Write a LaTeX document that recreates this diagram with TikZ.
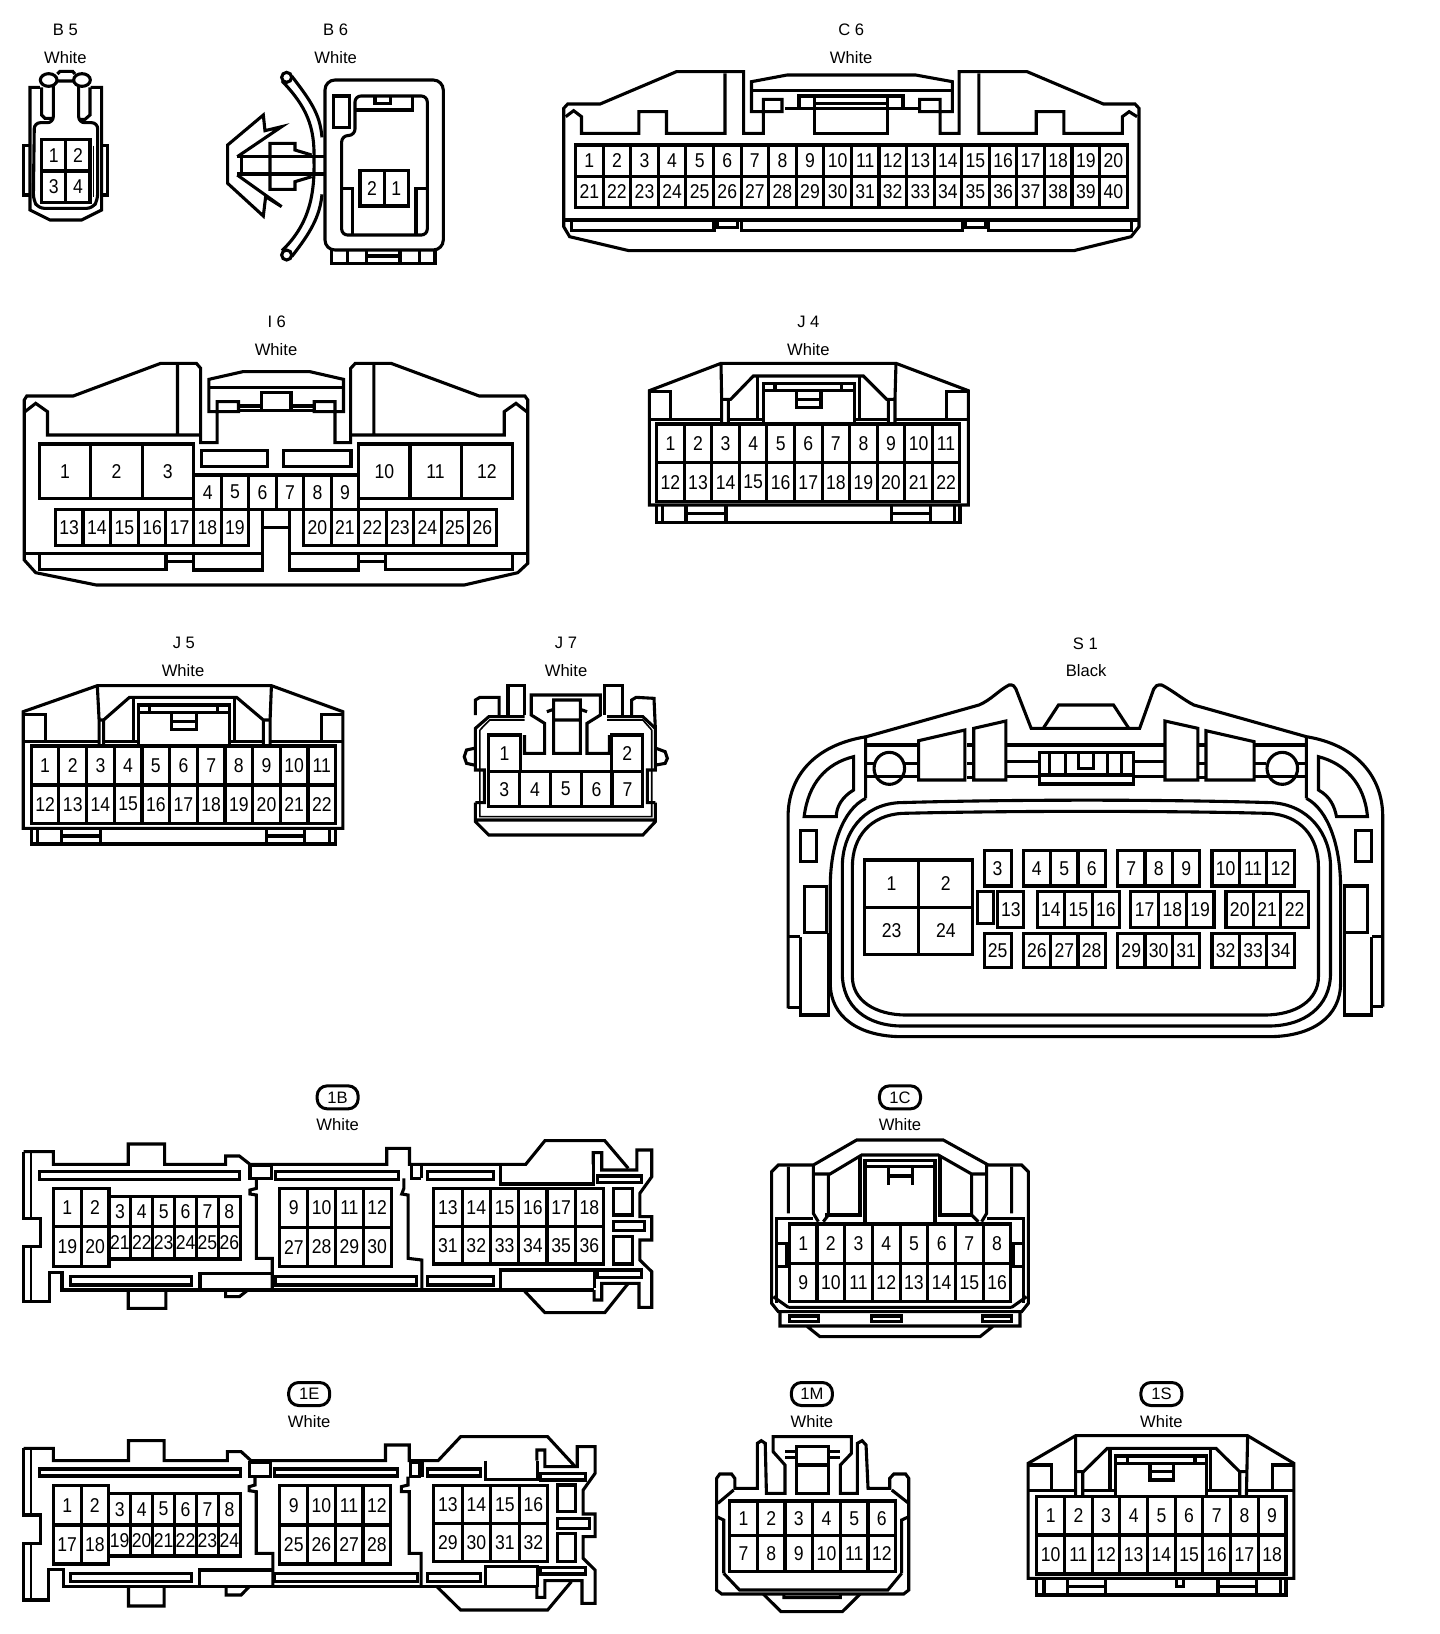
\documentclass[tikz,border=0pt]{standalone}
\usepackage{fontspec}
\setmainfont{Liberation Sans}
\newfontfamily\pinfont[FakeStretch=0.88]{Liberation Sans}
\tikzset{
  panel/.style n args={3}{shift={(#1,#2)},x=.5pt/#3,y=-.166667pt},
  pinlabel/.style={font=\pinfont\fontsize{10}{10}\selectfont,inner sep=0pt},
  tag/.style={font=\fontsize{8.3}{10}\selectfont,inner sep=0pt},
  badge/.style={draw,tag,rounded corners=5pt,minimum width=20.5pt,minimum height=11.5pt,line width=1.5pt},
  fine/.style={line width=.8pt}
}
\newcommand{\pinrow}[6]{% name, left, cell width, top, bottom, labels
  \foreach \n [count=\k from 0] in {#6} {
    \pgfmathsetmacro\xa{#2+\k*#3}
    \pgfmathsetmacro\xb{#2+(\k+1)*#3}
    \pgfmathsetmacro\xc{#2+(\k+.5)*#3}
    \draw (\xa,#4) rectangle (\xb,#5);
    \node[pinlabel] (#1-\n) at (\xc,{(#4+#5)/2}) {\n};
  }
}
\begin{document}
\begin{tikzpicture}[x=.5pt,y=-.5pt,line width=1.55pt]
\useasboundingbox (0,0) rectangle (1440,1634);

% B5 and B6
\begin{scope}[panel={0}{0}{3}]
\node[tag] (b5) at (196,90) {B 5};
\node[tag] (b5col) at (196,172) {White};
\draw (172,222) -- (180,214) -- (218,214) -- (225,222) (172,243) -- (222,243);
\draw[fill=white] (146,240) ellipse [x radius=25,y radius=19];
\draw[fill=white] (246,240) ellipse [x radius=25,y radius=19];
\draw (120,262) -- (90,262) -- (90,630) -- (150,660) -- (245,660) -- (305,630) -- (305,262) -- (272,262);
\draw (125,262) -- (125,345) -- (135,355) -- (160,355);
\draw (270,262) -- (270,345) -- (255,358) -- (236,358);
\draw[rounded corners=3pt] (160,258) -- (160,368) -- (103,368) -- (100,600) -- (115,625) -- (278,625) -- (293,600) -- (293,368) -- (236,368) -- (236,258);
\draw (90,437) -- (70,437) -- (70,585) -- (90,585);
\draw (305,437) -- (323,437) -- (323,585) -- (305,585);
\draw[fine] (280,437) -- (280,590);
\pinrow{b5}{125}{72.5}{418}{513}{1,2}
\pinrow{b5}{125}{72.5}{513}{608}{3,4}

\node[tag] (b6) at (1007,90) {B 6};
\node[tag] (b6col) at (1007,172) {White};
\draw[rounded corners=5pt] (975,240) rectangle (1330,750);
\draw (995,750) -- (995,790) -- (1305,790) -- (1305,750);
\draw (1042,750) -- (1042,790) (1100,750) -- (1100,790) (1200,750) -- (1200,790) (1258,750) -- (1258,790) (1105,768) -- (1195,768);
\draw[rounded corners=3pt] (1065,288) -- (1282,288) -- (1282,705) -- (1025,705) -- (1025,408) -- (1065,405) -- cycle;
\draw (1000,288) rectangle (1048,382);
\draw (1068,330) -- (1238,330) -- (1238,288) (1125,288) -- (1125,310) -- (1172,310) -- (1172,288);
\draw (1025,565) -- (1058,565) -- (1058,705) (1282,565) -- (1248,565) -- (1248,705);
\pinrow{b6}{1080}{72.5}{512}{618}{2,1}
\draw (712,470) -- (845,380) -- (795,392) -- (790,345) -- (683,435) -- (683,550) -- (790,648) -- (797,590) -- (845,620) -- (712,525);
\draw (712,470) -- (975,470) (712,522) -- (975,522) (725,472) -- (725,520);
\draw (935,465) -- (885,450) -- (885,430) -- (810,430) -- (810,568) -- (885,568) -- (885,545) -- (935,530);
\draw (846,243) .. controls (920,320) and (945,380) .. (942,480) .. controls (945,600) and (920,680) .. (846,752);
\draw (875,228) .. controls (930,300) and (960,340) .. (966,412);
\draw (966,583) .. controls (960,650) and (930,700) .. (875,770);
\draw[fill=white] (860,232) ellipse [x radius=15,y radius=15];
\draw[fill=white] (860,765) ellipse [x radius=15,y radius=15];
\end{scope}

% C6
\begin{scope}[panel={540}{0}{2.529}]
\node[tag] (c6) at (787,90) {C 6};
\node[tag] (c6col) at (787,172) {White};
\draw (60,680) -- (60,325) -- (70,312) -- (152,312) -- (345,215) -- (515,215) -- (515,400) -- (565,400) -- (565,298) -- (612,298) -- (612,335) -- (535,335) -- (535,245) -- (625,225) -- (950,225) -- (1043,245) -- (1043,335) -- (960,335) -- (960,298) -- (1012,298) -- (1012,400) -- (1060,400) -- (1060,215) -- (1232,215) -- (1425,312) -- (1505,312) -- (1515,325) -- (1515,680) -- (1495,710) -- (1350,752) -- (225,752) -- (75,710) -- cycle;
\draw (535,272) -- (1043,272);
\draw (620,325) -- (655,325) -- (655,288) -- (918,288) -- (918,325) -- (960,325);
\draw (695,288) -- (695,400) -- (880,400) -- (880,288) (695,310) -- (880,310) (660,325) -- (915,325);
\draw (468,220) -- (468,400) -- (320,400) -- (320,335) -- (250,335) -- (250,400) -- (105,400) -- (105,350) -- (85,332) -- (65,350);
\draw (1110,220) -- (1110,400) -- (1255,400) -- (1255,335) -- (1325,335) -- (1325,400) -- (1473,400) -- (1473,350) -- (1490,335) -- (1510,350);
\pinrow{c6}{90}{69.75}{435}{530}{1,...,20}
\pinrow{c6}{90}{69.75}{530}{622}{21,...,40}
\draw (62,660) -- (1513,660);
\draw (80,660) -- (80,692) -- (440,692) -- (440,660) (450,660) -- (450,682) -- (500,682) -- (500,660);
\draw (510,660) -- (510,692) -- (1068,692) -- (1068,660) (1075,660) -- (1075,682) -- (1128,682) -- (1128,660);
\draw (1135,660) -- (1135,692) -- (1495,692) -- (1495,660);
\end{scope}

% I6
\begin{scope}[panel={0}{300}{2.8}]
\node[tag] (i6) at (775,65) {I 6};
\node[tag] (i6col) at (773,148) {White};
\draw (68,780) -- (68,300) -- (75,288) -- (205,288) -- (450,190) -- (550,190) -- (562,205) -- (562,428) -- (608,428) -- (608,305) -- (668,305) -- (668,335) -- (585,335) -- (585,238) -- (680,215) -- (868,215) -- (962,238) -- (962,335) -- (880,335) -- (880,305) -- (938,305) -- (938,428) -- (982,428) -- (982,205) -- (995,190) -- (1095,190) -- (1342,288) -- (1470,288) -- (1478,300) -- (1478,790) -- (1450,818) -- (1300,855) -- (270,855) -- (100,818) -- cycle;
\draw (497,195) -- (497,405) (562,405) -- (133,405) -- (133,335) -- (100,310) -- (70,335);
\draw (1047,195) -- (1047,405) (982,405) -- (1412,405) -- (1412,335) -- (1445,310) -- (1475,335);
\draw (585,262) -- (962,262) (732,330) -- (732,278) -- (815,278) -- (815,330);
\draw (668,318) -- (732,318) (815,318) -- (880,318) (668,332) -- (880,332);
\draw (565,452) rectangle (750,500) (795,452) rectangle (983,500);
\pinrow{i6}{110}{144}{432}{595}{1,2,3}
\pinrow{i6}{1005}{143.3}{432}{595}{10,11,12}
\pinrow{i6}{543}{77}{525}{628}{4,...,9}
\pinrow{i6}{155}{77.4}{628}{737}{13,...,19}
\pinrow{i6}{850}{77.1}{628}{737}{20,...,26}
\draw (735,628) -- (735,810) -- (543,810) -- (543,760) (810,628) -- (810,810) -- (1003,810) -- (1003,760) (735,682) -- (810,682);
\draw (68,760) -- (735,760) (810,760) -- (1478,760);
\draw (110,760) -- (110,808) -- (465,808) -- (465,760) (465,785) -- (543,785) (1003,785) -- (1080,785) (1080,760) -- (1080,808) -- (1435,808) -- (1435,760);
\end{scope}

% J4
\begin{scope}[panel={620}{300}{3}]
\node[tag] (j4) at (565,65) {J 4};
\node[tag] (j4col) at (565,148) {White};
\draw (88,615) -- (88,272) -- (303,190) -- (828,190) -- (1045,272) -- (1045,615) -- cycle;
\draw (305,372) -- (305,298) -- (303,190) (825,372) -- (825,298) -- (828,190) (325,372) -- (325,298) (805,372) -- (805,298);
\draw (305,298) -- (332,298) -- (400,228) -- (730,228) -- (800,298) -- (825,298);
\draw (88,358) -- (305,358) (325,358) -- (430,358) (703,358) -- (805,358) (825,358) -- (1045,358);
\draw (90,275) -- (152,275) -- (152,358) (1045,275) -- (980,275) -- (980,358);
\draw (412,228) -- (412,358) (718,228) -- (718,358);
\draw (430,372) -- (430,250) -- (703,250) -- (703,372) (432,272) -- (700,272) (465,252) -- (465,272) (665,252) -- (665,272);
\draw (530,272) -- (530,322) -- (603,322) -- (603,272) (530,298) -- (603,298);
\pinrow{j4}{110}{82.7}{372}{488}{1,...,11}
\pinrow{j4}{110}{82.7}{488}{605}{12,...,22}
\draw (110,615) -- (110,667) -- (1020,667) -- (1020,615) (128,615) -- (128,667) (1003,615) -- (1003,667);
\draw (198,615) -- (198,667) (318,615) -- (318,667) (198,640) -- (318,640);
\draw (815,615) -- (815,667) (932,615) -- (932,667) (815,640) -- (932,640);
\end{scope}

% J5 and J7
\begin{scope}[panel={0}{620}{2.24}]
\node[tag] (j5) at (412,70) {J 5};
\node[tag] (j5col) at (410,152) {White};
\draw (52,625) -- (52,275) -- (218,197) -- (608,197) -- (768,275) -- (768,625) -- cycle;
\draw (222,375) -- (222,300) -- (218,197) (605,375) -- (605,300) -- (608,197) (232,375) -- (232,300) (590,375) -- (590,300);
\draw (222,300) -- (232,300) -- (290,232) -- (530,232) -- (590,300) -- (605,300);
\draw (52,365) -- (222,365) (232,365) -- (310,365) (515,365) -- (590,365) (605,365) -- (768,365);
\draw (55,283) -- (102,283) -- (102,365) (768,283) -- (720,283) -- (720,365);
\draw (300,232) -- (300,365) (525,232) -- (525,365);
\draw (310,378) -- (310,255) -- (515,255) -- (515,378) (312,277) -- (513,277) (335,257) -- (335,277) (487,257) -- (487,277);
\draw (385,277) -- (385,328) -- (440,328) -- (440,277) (385,305) -- (440,305);
\pinrow{j5}{70}{62}{378}{495}{1,...,11}
\pinrow{j5}{70}{62}{495}{610}{12,...,22}
\draw (70,625) -- (70,672) -- (752,672) -- (752,625) (85,625) -- (85,672) (738,625) -- (738,672);
\draw (138,625) -- (138,672) (225,625) -- (225,672) (138,648) -- (225,648);
\draw (597,625) -- (597,672) (682,625) -- (682,672) (597,648) -- (682,648);

\node[tag] (j7) at (1268,70) {J 7};
\node[tag] (j7col) at (1268,152) {White};
\pinrow{j7}{1095}{70}{345}{455}{1}
\pinrow{j7}{1370}{70}{345}{455}{2}
\pinrow{j7}{1095}{69}{455}{560}{3,...,7}
\draw (1065,548) -- (1065,605) -- (1095,645) -- (1440,645) -- (1468,605) -- (1468,548) (1065,600) -- (1468,600);
\draw (1065,548) -- (1085,548) -- (1085,450) -- (1065,450) -- (1065,325) -- (1095,290) -- (1175,290);
\draw (1468,548) -- (1450,548) -- (1450,450) -- (1468,450) -- (1468,325) -- (1440,290) -- (1360,290);
\draw (1062,385) -- (1045,390) -- (1040,410) -- (1045,430) -- (1062,435) (1470,385) -- (1490,395) -- (1495,415) -- (1490,430) -- (1470,435);
\draw (1065,285) -- (1065,240) -- (1075,232) -- (1118,232) -- (1118,285) (1415,285) -- (1415,240) -- (1425,232) -- (1465,235) -- (1468,325);
\draw (1138,285) -- (1138,197) -- (1175,197) -- (1175,285) (1355,285) -- (1355,197) -- (1395,197) -- (1395,285);
\draw (1175,345) -- (1175,400) -- (1220,400) -- (1220,310) -- (1190,285) -- (1190,225) -- (1345,225) -- (1345,285) -- (1315,310) -- (1315,400) -- (1365,400) -- (1365,345);
\draw (1240,400) -- (1240,240) -- (1300,240) -- (1300,400) -- cycle (1240,300) -- (1300,300) (1225,275) -- (1240,268) (1300,268) -- (1315,275);
\draw[fine] (1075,330) -- (1075,590) -- (1460,590) -- (1460,330) (1075,330) -- (1097,300) -- (1175,300) (1460,330) -- (1440,300) -- (1360,300);
\end{scope}

% S1
\begin{scope}[panel={770}{620}{2.489}]
\node[tag] (s1) at (785,70) {S 1};
\node[tag] (s1col) at (787,152) {Black};
\draw (45,1165) -- (45,590) .. controls (45,470) and (110,375) .. (240,350) -- (520,255) .. controls (550,240) and (570,210) .. (595,195) .. controls (605,193) and (610,200) .. (612,207) -- (650,325) -- (920,325) -- (955,207) .. controls (958,198) and (965,193) .. (975,195) .. controls (1000,210) and (1030,240) .. (1055,255) -- (1335,350) .. controls (1460,375) and (1525,470) .. (1525,590) -- (1525,1160);
\draw (45,1162) -- (75,1162) (45,950) -- (75,950) (145,940) -- (145,1185) -- (75,1185) -- (75,950);
\draw (1525,1160) -- (1497,1160) (1525,950) -- (1497,950) (1430,940) -- (1430,1185) -- (1497,1185) -- (1497,950);
\draw (85,800) rectangle (140,938) (1430,798) rectangle (1488,938) (75,632) rectangle (115,725) (1458,632) rectangle (1497,725);
\draw (680,325) -- (718,255) -- (855,255) -- (893,325) (238,350) -- (238,535) (1335,350) -- (1335,535);
\draw (240,375) -- (370,375) (240,430) -- (258,430) (335,430) -- (370,430) (240,470) -- (370,470);
\draw (490,375) -- (505,375) (490,430) -- (505,430) (490,472) -- (505,472);
\draw (590,375) -- (980,375) (590,425) -- (670,425) (905,425) -- (980,425) (590,470) -- (670,470) (905,470) -- (980,470);
\draw (1065,375) -- (1085,375) (1065,430) -- (1085,430) (1065,472) -- (1085,472);
\draw (1205,375) -- (1335,375) (1205,430) -- (1235,430) (1315,430) -- (1335,430) (1205,470) -- (1335,470);
\draw (297,445) ellipse [x radius=38,y radius=48] (1275,445) ellipse [x radius=38,y radius=48];
\draw (370,362) -- (485,330) -- (485,480) -- (370,480) -- cycle (507,325) -- (587,303) -- (587,480) -- (507,480) -- cycle;
\draw (983,303) -- (1065,325) -- (1065,480) -- (983,480) -- cycle (1085,332) -- (1205,365) -- (1205,480) -- (1085,480) -- cycle;
\draw (670,397) rectangle (905,492) (670,465) -- (905,465) (695,397) -- (695,465) (735,397) -- (735,465) (840,397) -- (840,465) (875,397) -- (875,465);
\draw (768,400) -- (768,445) -- (805,445) -- (805,400);
\draw (85,590) -- (165,590) .. controls (165,560) and (180,530) .. (208,510) -- (208,410) .. controls (140,430) and (95,490) .. (85,590) -- cycle;
\draw (1487,590) -- (1410,590) .. controls (1405,560) and (1395,530) .. (1365,510) -- (1365,410) .. controls (1430,430) and (1480,490) .. (1487,590) -- cycle;
\draw (330,580) .. controls (600,572) and (980,572) .. (1240,580) .. controls (1320,585) and (1365,650) .. (1365,740) -- (1365,1070) .. controls (1365,1140) and (1310,1185) .. (1230,1185) -- (340,1185) .. controls (260,1185) and (205,1140) .. (205,1070) -- (205,740) .. controls (205,650) and (250,585) .. (330,580) -- cycle;
\draw (320,548) .. controls (600,538) and (980,538) .. (1250,548) .. controls (1340,555) and (1395,640) .. (1395,740) -- (1395,1060) .. controls (1395,1160) and (1330,1218) .. (1240,1218) -- (330,1218) .. controls (240,1218) and (180,1160) .. (180,1060) -- (180,740) .. controls (180,640) and (230,555) .. (320,548) -- cycle;
\draw (238,535) .. controls (180,570) and (150,680) .. (150,800) -- (150,1090) .. controls (150,1190) and (220,1250) .. (330,1250) -- (1240,1250) .. controls (1350,1250) and (1420,1190) .. (1420,1090) -- (1420,800) .. controls (1420,680) and (1390,570) .. (1335,535);
\pinrow{s1}{235}{135}{720}{862}{1,2}
\pinrow{s1}{235}{135}{862}{1003}{23,24}
\pinrow{s1}{533}{67}{692}{798}{3}
\pinrow{s1}{630}{68.3}{692}{798}{4,5,6}
\pinrow{s1}{865}{68.3}{692}{798}{7,8,9}
\pinrow{s1}{1100}{68.3}{692}{798}{10,11,12}
\draw (517,815) rectangle (557,910);
\pinrow{s1}{567}{65}{815}{922}{13}
\pinrow{s1}{665}{68.3}{815}{922}{14,15,16}
\pinrow{s1}{898}{69}{815}{922}{17,18,19}
\pinrow{s1}{1135}{68.3}{815}{922}{20,21,22}
\pinrow{s1}{533}{67}{940}{1043}{25}
\pinrow{s1}{630}{68.3}{940}{1043}{26,27,28}
\pinrow{s1}{865}{68.3}{940}{1043}{29,30,31}
\pinrow{s1}{1100}{68.3}{940}{1043}{32,33,34}
\end{scope}

% 1B
\begin{scope}[panel={0}{1070}{2.34}]
\node[badge] (b1b) at (790,82) {1B};
\node[tag] (b1bcol) at (790,165) {White};
\draw (55,245) -- (125,245) -- (125,283) -- (300,283) -- (300,222) -- (385,222) -- (385,283) -- (528,283) -- (528,258) -- (560,258) -- (585,283) -- (905,283) -- (905,235) -- (958,235) -- (958,283) -- (1230,283) -- (1275,212) -- (1415,212) -- (1470,295);
\draw (1388,283) -- (1388,248) -- (1408,248) -- (1408,300) -- (1490,300) -- (1490,240) -- (1525,240) -- (1525,320) -- (1497,370) -- (1497,440) -- (1525,440) -- (1525,510) -- (1497,510) -- (1497,570) -- (1525,605) -- (1525,712) -- (1495,712) -- (1495,640) -- (1408,640) -- (1408,690) -- (1390,690) -- (1390,660);
\draw (1225,660) -- (1275,728) -- (1415,728) -- (1470,640);
\draw (1390,660) -- (145,660) -- (145,607) -- (115,607) -- (115,695) -- (55,695) -- (55,530) -- (95,530) -- (95,445) -- (55,445) -- (55,245);
\draw[fine] (72,250) -- (72,440) (72,530) -- (72,690);
\draw (300,660) -- (300,715) -- (388,715) -- (388,660) (528,660) -- (528,680) -- (560,680) -- (580,660);
\draw (92,305) rectangle (560,328) (645,305) rectangle (932,328) (1000,305) rectangle (1155,328);
\draw (165,620) rectangle (448,645) (645,620) rectangle (975,645) (1000,620) rectangle (1155,645);
\draw (585,285) rectangle (635,325) (962,283) -- (962,325) -- (985,325) (987,283) -- (987,325);
\draw (600,325) -- (600,355) -- (585,360) -- (585,372) -- (600,375) -- (600,565) -- (637,565) -- (637,660);
\draw (945,325) -- (945,355) -- (940,372) -- (955,375) -- (955,565) -- (987,570) -- (987,660);
\draw (468,655) -- (468,610) -- (637,610);
\draw (1172,283) -- (1172,342) -- (1388,342) -- (1388,283) (1172,655) -- (1172,600) -- (1390,600) -- (1390,655);
\draw (1398,318) rectangle (1500,338) (1398,600) rectangle (1500,622) (1435,355) rectangle (1480,435) (1435,455) rectangle (1508,482) (1435,500) rectangle (1480,582);
\pinrow{b1b}{125}{65}{355}{470}{1,2}
\pinrow{b1b}{125}{65}{470}{590}{19,20}
\pinrow{b1b}{255}{51.2}{380}{470}{3,...,8}
\pinrow{b1b}{255}{51.2}{470}{567}{21,...,26}
\pinrow{b1b}{655}{65}{355}{472}{9,...,12}
\pinrow{b1b}{655}{65}{472}{590}{27,...,30}
\pinrow{b1b}{1015}{66.2}{355}{470}{13,...,18}
\pinrow{b1b}{1015}{66.2}{470}{582}{31,...,36}
\end{scope}

% 1C
\begin{scope}[panel={750}{1070}{3}]
\node[badge] (b1c) at (450,82) {1C};
\node[tag] (b1ccol) at (450,165) {White};
\draw (65,700) -- (65,305) -- (85,285) -- (190,285) -- (320,210) -- (580,210) -- (715,285) -- (815,285) -- (835,305) -- (835,700) -- (815,725) -- (85,725) -- cycle;
\draw (115,290) -- (115,430) (785,290) -- (785,430) (190,285) -- (190,430) -- (205,455) (710,285) -- (710,430) -- (695,455);
\draw (190,312) -- (240,312) -- (335,255) -- (565,255) -- (665,312) -- (710,312);
\draw (235,312) -- (235,435) -- (220,455) (665,312) -- (665,435) -- (685,455);
\draw (330,260) -- (330,435) -- (225,435) (570,260) -- (570,435) -- (670,435);
\draw (345,462) -- (345,272) -- (555,272) -- (555,462) (345,290) -- (555,290);
\draw (415,290) -- (415,345) (488,290) -- (488,345) (415,318) -- (488,318);
\draw (190,445) -- (80,445) -- (80,700) (710,445) -- (820,445) -- (820,700);
\draw (85,520) -- (110,520) -- (110,590) -- (85,590) (815,520) -- (790,520) -- (790,590) -- (815,590);
\draw (70,680) -- (115,712) (830,680) -- (785,712) (115,712) -- (785,712);
\pinrow{b1c}{118}{83.1}{462}{580}{1,...,8}
\pinrow{b1c}{118}{83.1}{580}{695}{9,...,16}
\draw (90,728) -- (90,768) -- (810,768) -- (810,728) (170,768) -- (210,800) -- (690,800) -- (730,768);
\draw (118,738) rectangle (205,755) (365,738) rectangle (455,755) (697,738) rectangle (785,755);
\end{scope}

% 1E
\begin{scope}[panel={0}{1370}{2.529}]
\node[badge] (b1e) at (782,72) {1E};
\node[tag] (b1ecol) at (782,155) {White};
\draw (60,235) -- (135,235) -- (135,272) -- (325,272) -- (325,212) -- (415,212) -- (415,272) -- (575,272) -- (575,245) -- (610,245) -- (635,272) -- (975,272) -- (975,225) -- (1035,225) -- (1035,272) -- (1108,272) -- (1165,200) -- (1385,200) -- (1455,290);
\draw (1358,272) -- (1358,240) -- (1378,240) -- (1378,290) -- (1460,290) -- (1460,230) -- (1505,230) -- (1505,310) -- (1475,360) -- (1475,432) -- (1505,432) -- (1505,500) -- (1475,500) -- (1475,565) -- (1505,600) -- (1505,700) -- (1472,700) -- (1472,632) -- (1378,632) -- (1378,682) -- (1358,682) -- (1358,650);
\draw (1105,650) -- (1165,720) -- (1385,720) -- (1445,635);
\draw (1358,650) -- (160,650) -- (160,598) -- (122,598) -- (122,690) -- (60,690) -- (60,520) -- (102,520) -- (102,435) -- (60,435) -- (60,235);
\draw[fine] (78,240) -- (78,430) (78,525) -- (78,685);
\draw (325,650) -- (325,708) -- (415,708) -- (415,650) (572,650) -- (572,675) -- (610,675) -- (630,650);
\draw (100,297) rectangle (608,318) (695,297) rectangle (1005,318) (1082,297) rectangle (1215,318);
\draw (178,610) rectangle (485,635) (695,610) rectangle (1055,635) (1082,610) rectangle (1215,635);
\draw (632,278) rectangle (685,320) (1038,278) rectangle (1062,320) (1068,272) -- (1068,320);
\draw (645,320) -- (645,345) -- (630,350) -- (630,362) -- (648,365) -- (648,550) -- (690,550) -- (690,650);
\draw (1032,320) -- (1032,345) -- (1015,350) -- (1015,365) -- (1035,365) -- (1035,550) -- (1065,550) -- (1065,650);
\draw (505,650) -- (505,600) -- (690,600);
\draw (1228,272) -- (1228,328) -- (1360,328) -- (1360,272) (1228,650) -- (1228,590) -- (1360,590) -- (1360,650);
\draw (1368,310) rectangle (1480,330) (1368,592) rectangle (1480,612) (1410,345) rectangle (1455,425) (1410,445) rectangle (1490,475) (1410,490) rectangle (1455,575);
\pinrow{b1e}{135}{70}{347}{465}{1,2}
\pinrow{b1e}{135}{70}{465}{582}{17,18}
\pinrow{b1e}{275}{55.5}{370}{465}{3,...,8}
\pinrow{b1e}{275}{55.5}{465}{558}{19,...,24}
\pinrow{b1e}{708}{70}{347}{465}{9,...,12}
\pinrow{b1e}{708}{70}{465}{582}{25,...,28}
\pinrow{b1e}{1097}{72}{347}{460}{13,...,16}
\pinrow{b1e}{1097}{72}{460}{575}{29,...,32}
\end{scope}

% 1M and 1S
\begin{scope}[panel={700}{1370}{2.529}]
\node[badge] (b1m) at (283,72) {1M};
\node[tag] (b1mcol) at (283,155) {White};
\draw (42,660) -- (42,325) -- (50,312) -- (80,312) -- (88,325) -- (88,355) -- (145,355) -- (145,220) -- (155,212) -- (165,220) -- (168,370) -- (215,370) -- (215,285) -- (185,245) -- (185,200) -- (383,200) -- (383,250) -- (355,285) -- (355,370) -- (398,370) -- (398,220) -- (410,212) -- (420,225) -- (425,355) -- (480,355) -- (480,325) -- (490,312) -- (520,312) -- (528,325) -- (528,660) -- (515,672) -- (55,672) -- cycle;
\draw (245,370) -- (245,230) -- (325,230) -- (325,370) -- cycle (245,285) -- (325,285);
\draw (215,245) -- (245,245) (215,262) -- (245,262) (325,245) -- (355,245) (325,262) -- (355,262);
\draw (45,400) -- (85,360) (528,400) -- (485,360);
\draw (60,610) -- (100,660) -- (475,660) -- (510,610);
\draw (42,440) -- (60,450) -- (60,610) (528,440) -- (510,450) -- (510,610);
\pinrow{b1m}{75}{70}{393}{497}{1,...,6}
\pinrow{b1m}{75}{70}{497}{605}{7,...,12}
\draw (160,672) -- (205,725) -- (360,725) -- (405,672) (212,672) -- (212,683) -- (355,683) -- (355,672);

\node[badge] (b1s) at (1167,72) {1S};
\node[tag] (b1scol) at (1167,155) {White};
\draw (830,625) -- (830,280) -- (950,197) -- (1385,197) -- (1502,280) -- (1502,625) -- cycle;
\draw (950,197) -- (950,375) (1385,197) -- (1382,375) (968,305) -- (968,375) (1365,305) -- (1365,375);
\draw (950,305) -- (970,305) -- (1030,235) -- (1305,235) -- (1365,305) -- (1382,305);
\draw (830,362) -- (950,362) (968,362) -- (1050,362) (1282,362) -- (1365,362) (1382,362) -- (1502,362);
\draw (833,285) -- (888,285) -- (888,362) (1502,285) -- (1447,285) -- (1447,362);
\draw (1037,235) -- (1037,362) (1290,235) -- (1290,362);
\draw (1050,380) -- (1050,258) -- (1282,258) -- (1282,380) (1052,280) -- (1280,280) (1082,260) -- (1082,280) (1252,260) -- (1252,280);
\draw (1138,280) -- (1138,330) -- (1198,330) -- (1198,280) (1138,305) -- (1198,305);
\pinrow{b1s}{852}{70}{380}{495}{1,...,9}
\pinrow{b1s}{852}{70}{495}{612}{10,...,18}
\draw (852,625) -- (852,675) -- (1482,675) -- (1482,625) (870,625) -- (870,675) (1468,625) -- (1468,675);
\draw (930,625) -- (930,675) (1025,625) -- (1025,675) (930,650) -- (1025,650);
\draw (1310,625) -- (1310,675) (1408,625) -- (1408,675) (1310,650) -- (1408,650);
\draw (1205,625) -- (1205,650) -- (1222,650) -- (1222,625);
\end{scope}
\end{tikzpicture}
\end{document}
